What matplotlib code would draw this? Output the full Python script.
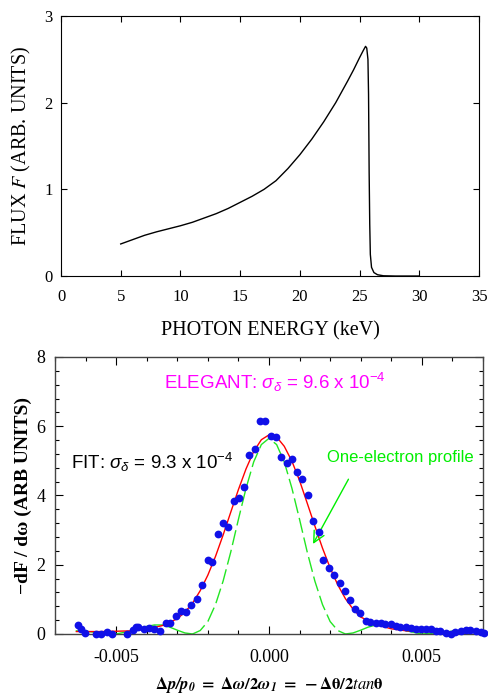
import matplotlib
matplotlib.use('Agg')
import matplotlib.pyplot as plt
from matplotlib.ticker import MultipleLocator, FormatStrFormatter

plt.rcParams['font.family'] = ['Liberation Serif', 'DejaVu Serif']
plt.rcParams['axes.unicode_minus'] = False
plt.rcParams['mathtext.fontset'] = 'custom'
plt.rcParams['mathtext.rm'] = 'Liberation Sans'
plt.rcParams['mathtext.it'] = 'Liberation Sans:italic'
plt.rcParams['mathtext.bf'] = 'Liberation Sans:bold'

# ---- top panel: flux spectrum ----
energy = [5, 6, 7, 8, 9, 10, 11, 12, 13, 14, 15, 16, 17, 18, 19, 20, 21, 22, 23, 24,
          24.5, 25, 25.3, 25.5, 25.6, 25.7, 25.75, 25.8, 25.85, 25.9, 26.0, 26.2, 26.5,
          27, 28, 30]
flux = [0.37, 0.42, 0.47, 0.51, 0.545, 0.58, 0.62, 0.67, 0.72, 0.78, 0.85, 0.92, 1.0,
        1.1, 1.24, 1.40, 1.58, 1.78, 2.0, 2.25, 2.38, 2.52, 2.6, 2.65, 2.63, 2.5, 2.1,
        1.2, 0.6, 0.25, 0.1, 0.04, 0.015, 0.003, 0.0, 0.0]

# ---- bottom panel: measured derivative, fit and one-electron profile ----
meas_x = [-0.00626, -0.00615, -0.00601, -0.00566, -0.00550, -0.00530, -0.00512, -0.00463,
          -0.00446, -0.00436, -0.00428, -0.00408, -0.00392, -0.00376, -0.00356, -0.00338,
          -0.00323, -0.00305, -0.00289, -0.00272, -0.00254, -0.00237, -0.00220, -0.00201,
          -0.00185, -0.00167, -0.00152, -0.00133, -0.00114, -0.00098, -0.00082, -0.00066,
          -0.00047, -0.00030, -0.00012, 0.00008, 0.00023, 0.00040, 0.00059, 0.00074,
          0.00093, 0.00109, 0.00128, 0.00144, 0.00162, 0.00178, 0.00196, 0.00213, 0.00231,
          0.00249, 0.00266, 0.00283, 0.00298, 0.00316, 0.00332, 0.00349, 0.00365, 0.00381,
          0.00398, 0.00414, 0.00430, 0.00447, 0.00463, 0.00480, 0.00496, 0.00512, 0.00529,
          0.00545, 0.00561, 0.00578, 0.00594, 0.00610, 0.00627, 0.00643, 0.00659, 0.00676,
          0.00692, 0.00703]
meas_y = [0.26, 0.14, 0.02, 0.00, 0.00, 0.05, 0.00, 0.00,
          0.12, 0.21, 0.19, 0.14, 0.16, 0.14, 0.10, 0.33,
          0.33, 0.53, 0.65, 0.64, 0.84, 1.00, 1.41, 2.14,
          2.09, 2.88, 3.21, 3.10, 3.85, 3.94, 4.24, 5.17,
          5.35, 6.16, 6.14, 5.72, 5.70, 5.11, 4.95, 5.04,
          4.68, 4.47, 4.02, 3.26, 2.95, 2.15, 1.92, 1.70, 1.48,
          1.25, 0.99, 0.71, 0.62, 0.38, 0.36, 0.33, 0.31, 0.29,
          0.28, 0.24, 0.21, 0.19, 0.16, 0.14, 0.14, 0.14, 0.14,
          0.10, 0.09, 0.04, 0.00, 0.07, 0.10, 0.12, 0.12, 0.10,
          0.07, 0.04]

fit_x = [-0.0063, -0.006, -0.0055, -0.005, -0.0045, -0.004, -0.0035, -0.003, -0.00275,
         -0.0025, -0.00225, -0.002, -0.00175, -0.0015, -0.00125, -0.001, -0.00075, -0.0005,
         -0.00025, 0.0, 0.00025, 0.0005, 0.00075, 0.001, 0.00125, 0.0015, 0.00175, 0.002,
         0.00225, 0.0025, 0.00275, 0.003, 0.0035, 0.004, 0.0045, 0.005, 0.0055, 0.006,
         0.0065, 0.007]
fit_y = [0.07, 0.07, 0.07, 0.08, 0.09, 0.14, 0.24, 0.44, 0.63,
         0.89, 1.25, 1.70, 2.24, 2.86, 3.52, 4.17, 4.77, 5.27,
         5.61, 5.75, 5.69, 5.42, 4.99, 4.43, 3.78, 3.12, 2.48, 1.91,
         1.42, 1.02, 0.72, 0.49, 0.27, 0.15, 0.09, 0.07, 0.06, 0.06,
         0.05, 0.05]

one_x = [-0.0063, -0.006, -0.0055, -0.005, -0.0045, -0.004, -0.00375, -0.0035, -0.00325,
         -0.003, -0.00275, -0.0025, -0.00225, -0.002, -0.00175, -0.0015, -0.00125, -0.001,
         -0.00075, -0.0005, -0.00025, 0.0, 0.00025, 0.0005, 0.00075, 0.001, 0.00125, 0.0015,
         0.00175, 0.002, 0.00225, 0.0025, 0.00275, 0.003, 0.00325, 0.0035, 0.00375, 0.004,
         0.0045, 0.005, 0.0055, 0.006, 0.0065, 0.007]
one_y = [0.09, 0.08, 0.03, 0.0, 0.09, 0.22, 0.26, 0.26, 0.20,
         0.11, 0.03, 0.0, 0.10, 0.36, 0.85, 1.53, 2.37, 3.31,
         4.21, 4.97, 5.47, 5.65, 5.47, 4.97, 4.21, 3.31, 2.37, 1.53,
         0.85, 0.36, 0.10, 0.0, 0.03, 0.11, 0.20, 0.26, 0.26, 0.22,
         0.09, 0.0, 0.03, 0.08, 0.09, 0.04]

fig = plt.figure(figsize=(4.88, 6.96), dpi=100)

# top
ax1 = fig.add_axes([0.125, 0.6034, 0.8566, 0.3736])
ax1.plot(energy, flux, color='black', lw=1.0)
ax1.set_xlim(0, 35)
ax1.set_ylim(0, 3)
ax1.xaxis.set_major_locator(MultipleLocator(5))
ax1.yaxis.set_major_locator(MultipleLocator(1))
ax1.tick_params(direction='in', top=True, right=True, length=4, width=0.8,
                labelsize=12, pad=6)
ax1.tick_params(axis='x', pad=9)
ax1.set_xlabel('PHOTON ENERGY (keV)', fontsize=14.5, labelpad=12)
ax1.set_ylabel('FLUX $F$ (ARB. UNITS)', fontsize=14.5, labelpad=8,
               math_fontfamily='stix')

# bottom
ax2 = fig.add_axes([0.1127, 0.0891, 0.877, 0.398])
ax2.plot(fit_x, fit_y, color='#ff0000', lw=1.0, zorder=3)
ax2.plot(one_x[:12], one_y[:12], color='#22e622', lw=1.0, zorder=2)
ax2.plot(one_x[11:32], one_y[11:32], color='#22e622', lw=1.0, dashes=(11, 3.5), zorder=2)
ax2.plot(one_x[31:], one_y[31:], color='#22e622', lw=1.0, zorder=2)
ax2.plot(meas_x, meas_y, 'o', color='#1010e8', markersize=5.6, markeredgewidth=0,
         clip_on=False, zorder=4)
ax2.set_xlim(-0.007, 0.007)
ax2.set_ylim(0, 8)
ax2.xaxis.set_major_locator(MultipleLocator(0.005))
ax2.xaxis.set_minor_locator(MultipleLocator(0.001))
ax2.xaxis.set_major_formatter(FormatStrFormatter('%.3f'))
ax2.yaxis.set_major_locator(MultipleLocator(2))
ax2.yaxis.set_minor_locator(MultipleLocator(0.4))
ax2.tick_params(which='both', direction='in', top=True, right=True, width=0.8)
ax2.tick_params(which='major', length=6, labelsize=13, pad=7)
ax2.tick_params(axis='x', which='major', pad=11)
ax2.tick_params(which='minor', length=3)
for s in ax2.spines.values():
    s.set_color('#444444')
    s.set_linewidth(1.0)

ax2.set_ylabel('\u2212dF / d\u03c9 (ARB UNITS)', fontsize=14, fontweight='bold', labelpad=3)
ax2.set_xlabel(r'$\mathbf{\Delta}\mathbfit{p/p}_{\mathbfit{0}}\mathbf{\ =\ \Delta}\mathbfit{\omega}'
               r'\mathbf{/2}\mathbfit{\omega}_{\mathbfit{1}}\mathbf{\ =\ -\Delta\theta/2}'
               r'\mathit{tan}\mathbf{\theta}$',
               fontsize=12, math_fontfamily='stix', labelpad=6)

ax2.text(-0.00344, 7.25, r'ELEGANT: $\sigma_\delta$ = 9.6 x 10$^{-4}$', color='#ff00ff',
         fontsize=13.5, family='Liberation Sans', va='center', ha='left')
ax2.text(-0.00647, 4.94, r'FIT: $\sigma_\delta$ = 9.3 x 10$^{-4}$', color='black',
         fontsize=13.5, family='Liberation Sans', va='center', ha='left')
ax2.text(0.0019, 5.1, 'One-electron profile', color='#00ee00',
         fontsize=12, family='Liberation Sans', va='center', ha='left')
ax2.annotate('', xy=(0.00144, 2.6), xytext=(0.0026, 4.47),
             arrowprops=dict(arrowstyle='->', color='#00ee00', lw=1.0,
                             mutation_scale=20, shrinkA=0, shrinkB=0))

fig.savefig('out.png', dpi=100)
